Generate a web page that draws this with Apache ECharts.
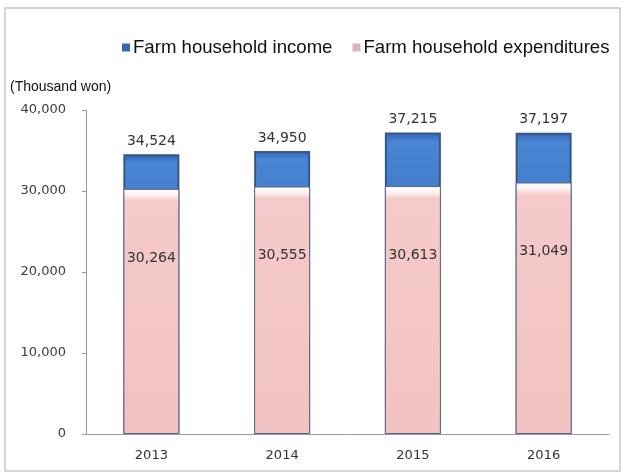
<!DOCTYPE html>
<html>
<head>
<meta charset="utf-8">
<script src="https://cdn.jsdelivr.net/npm/echarts@6/dist/echarts.min.js"></script>
<style>html,body{margin:0;padding:0;background:#fff}#c{width:624px;height:475px}</style>
</head>
<body>
<div id="c"></div>
<script>
var categories = ['2013', '2014', '2015', '2016'];
var incomeValues = [34524, 34950, 37215, 37197];
var expenditureValues = [30264, 30555, 30613, 31049];
var seriesNames = ['Farm household income', 'Farm household expenditures'];
var unitLabel = '(Thousand won)';

var chart = echarts.init(document.getElementById('c'));
var narrow = '"Liberation Sans", Arial, sans-serif';
var numFont = '"DejaVu Sans", sans-serif';

chart.setOption({
  animation: false,
  backgroundColor: '#fff',
  graphic: [
    { type: 'rect', shape: { x: 5, y: 8, width: 615, height: 463 }, style: { fill: 'none', stroke: '#c8c8c8', lineWidth: 1.5 } },
    { type: 'text', left: 10, top: 80, style: { text: unitLabel, font: '14px ' + narrow, fill: '#111' } }
  ],
  legend: {
    top: 33,
    left: 117,
    width: 520,
    itemWidth: 8,
    itemHeight: 8,
    itemGap: 20,
    icon: 'rect',
    textStyle: { fontFamily: narrow, fontSize: 18.6, color: '#111', padding: [0, 0, 0, -2] },
    data: [
      { name: seriesNames[0], itemStyle: { color: '#3b67b0', borderWidth: 0 } },
      { name: seriesNames[1], itemStyle: { color: '#d8b4c2', borderWidth: 0 } }
    ]
  },
  grid: { left: 86, right: 15, top: 110, bottom: 41, containLabel: false },
  xAxis: {
    type: 'category',
    data: categories,
    axisLine: { lineStyle: { color: '#9a9a9a', width: 1 } },
    axisTick: { inside: true, length: 4, lineStyle: { color: '#9a9a9a' } },
    axisLabel: { fontFamily: numFont, fontSize: 13, color: '#333', margin: 15 }
  },
  yAxis: {
    type: 'value',
    min: 0,
    max: 40000,
    interval: 10000,
    splitLine: { show: false },
    axisLine: { show: true, lineStyle: { color: '#9a9a9a', width: 1 } },
    axisTick: { show: true, length: 4, lineStyle: { color: '#9a9a9a' } },
    axisLabel: {
      fontFamily: numFont, fontSize: 13, color: '#3c3c3c', margin: 20,
      formatter: function (v) { return v.toLocaleString('en-US'); }
    }
  },
  series: [
    {
      name: seriesNames[0],
      type: 'bar',
      data: incomeValues,
      barWidth: 56,
      barGap: '-100%',
      itemStyle: {
        color: new echarts.graphic.LinearGradient(0, 0, 0, 1, [
          { offset: 0, color: '#2f63b3' },
          { offset: 0.03, color: '#4a86d4' },
          { offset: 0.3, color: '#3e78c6' },
          { offset: 1, color: '#3a72c0' }
        ]),
        borderColor: '#3b5684',
        borderWidth: 2
      },
      label: {
        show: true,
        position: 'top',
        distance: 6,
        fontFamily: numFont,
        fontSize: 14,
        color: '#333',
        formatter: function (p) { return p.value.toLocaleString('en-US'); }
      },
      z: 2
    },
    {
      name: seriesNames[1],
      type: 'bar',
      data: expenditureValues,
      barWidth: 56,
      itemStyle: {
        color: new echarts.graphic.LinearGradient(0, 0, 0, 1, [
          { offset: 0, color: '#ffffff' },
          { offset: 0.025, color: '#fdf2f2' },
          { offset: 0.05, color: '#f5caca' },
          { offset: 1, color: '#f3c2c2' }
        ]),
        borderColor: '#5a6688',
        borderWidth: 1
      },
      label: {
        show: true,
        position: 'insideTop',
        distance: 62,
        fontFamily: numFont,
        fontSize: 14,
        color: '#333',
        formatter: function (p) { return p.value.toLocaleString('en-US'); }
      },
      z: 3
    }
  ]
});
</script>
</body>
</html>
